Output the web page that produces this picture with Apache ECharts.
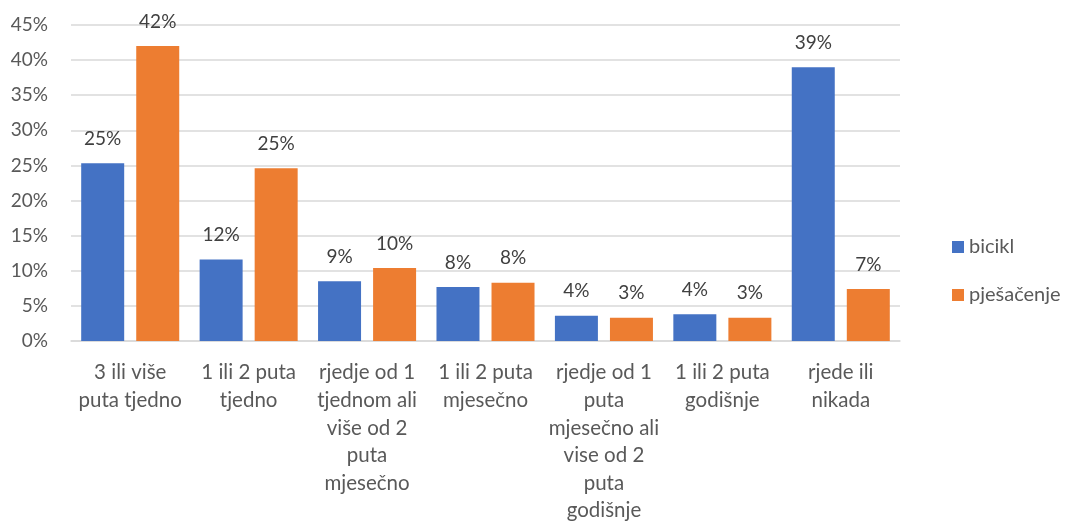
<!DOCTYPE html>
<html>
<head>
<meta charset="utf-8">
<script src="https://cdn.jsdelivr.net/npm/echarts@6/dist/echarts.min.js"></script>
<style>html,body{margin:0;padding:0;background:#fff}#c{width:1068px;height:521px}</style>
</head>
<body>
<div id="c"></div>
<script>
const categories = [
  '3 ili više\nputa tjedno',
  '1 ili 2 puta\ntjedno',
  'rjedje od 1\ntjednom ali\nviše od 2\nputa\nmjesečno',
  '1 ili 2 puta\nmjesečno',
  'rjedje od 1\nputa\nmjesečno ali\nvise od 2\nputa\ngodišnje',
  '1 ili 2 puta\ngodišnje',
  'rjede ili\nnikada'
];
const bicikl = [25.3, 11.6, 8.5, 7.7, 3.6, 3.8, 39.0];
const pjesacenje = [42.0, 24.6, 10.4, 8.3, 3.3, 3.3, 7.4];
const yTicks = { min: 0, max: 45, interval: 5 };

const FONT = 'Lato';
const chart = echarts.init(document.getElementById('c'));
const label = {
  show: true, position: 'top', distance: 15,
  color: '#404040', fontFamily: FONT, fontSize: 19,
  formatter: p => Math.round(p.value) + '%'
};
chart.setOption({
  animation: false,
  textStyle: { fontFamily: FONT },
  grid: { left: 71, right: 168, top: 25, bottom: 180, outerBoundsMode: 'none', containLabel: false },
  legend: {
    orient: 'vertical', left: 947, top: 230, itemGap: 24,
    itemWidth: 12, itemHeight: 12, icon: 'rect',
    textStyle: { color: '#595959', fontSize: 20, lineHeight: 24, fontFamily: FONT }
  },
  xAxis: {
    type: 'category', data: categories,
    axisLine: { lineStyle: { color: '#D9D9D9', width: 1.5 } },
    axisTick: { show: false },
    axisLabel: { color: '#595959', fontSize: 20.5, fontFamily: FONT, lineHeight: 27.6, margin: 18, interval: 0 }
  },
  yAxis: {
    type: 'value', min: yTicks.min, max: yTicks.max, interval: yTicks.interval,
    axisLine: { show: false }, axisTick: { show: false },
    splitLine: { lineStyle: { color: '#D9D9D9', width: 1.5 } },
    axisLabel: { color: '#595959', fontSize: 19, fontFamily: FONT, margin: 23, formatter: '{value}%' }
  },
  series: [
    { name: 'bicikl', type: 'bar', data: bicikl, barWidth: 43, barGap: '28%', itemStyle: { color: '#4472C4' }, label },
    { name: 'pješačenje', type: 'bar', data: pjesacenje, barWidth: 43, itemStyle: { color: '#ED7D31' }, label }
  ]
});
</script>
</body>
</html>
